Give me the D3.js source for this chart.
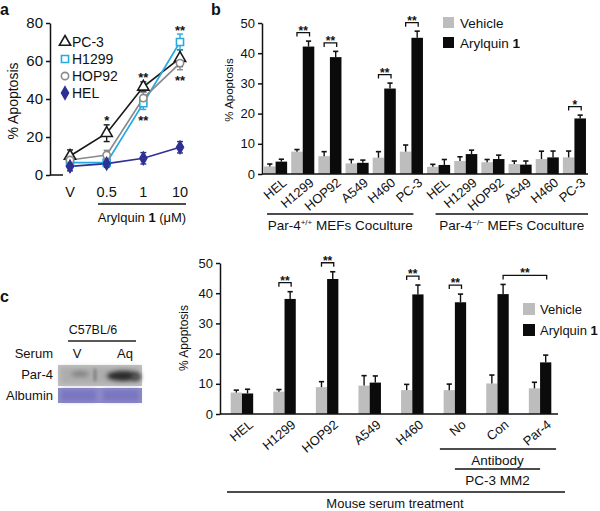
<!DOCTYPE html>
<html><head><meta charset="utf-8">
<script src="https://cdn.jsdelivr.net/npm/d3@7"></script>
<style>
body{margin:0;background:#fff}
svg{display:block}
text{font-family:"Liberation Sans",Arial,Helvetica,sans-serif;fill:#111}
</style></head>
<body><svg id="chart" width="600" height="511"></svg>
<script>
// ---------- DATA ----------
// Panel a
const doses = ["V", "0.5", "1", "10"];
const lineNames = ["PC-3", "H1299", "HOP92", "HEL"];
const pc3Vals = [10, 22, 46.4, 61.5];
const pc3Errs = [3.2, 4.4, 2.6, 4.4];
const h1299Vals = [6.5, 6.5, 37.8, 70];
const h1299Errs = [1.5, 1.5, 3.3, 4.2];
const hop92Vals = [7.9, 10.5, 40.5, 58.9];
const hop92Errs = [1.5, 2.5, 3, 3.5];
const helVals = [4.5, 6, 8.8, 14.6];
const helErrs = [2.3, 2, 3, 3];
const sigA = [
  {dose: "0.5", side: "above", label: "*"},
  {dose: "1", side: "above", label: "**"},
  {dose: "1", side: "below", label: "**"},
  {dose: "10", side: "above", label: "**"},
  {dose: "10", side: "below", label: "**"}
];
const yTicksA = [0, 20, 40, 60, 80];

// Panel b
const cellsB = ["HEL", "H1299", "HOP92", "A549", "H460", "PC-3"];
const setsB = ["wt", "ko"];
const vehWtB = [2.5, 7.4, 5.9, 3.5, 5.4, 7.4];
const vehWtErrB = [0.8, 0.7, 1.5, 1.3, 2.0, 2.2];
const aryWtB = [4.1, 42.2, 38.7, 3.7, 28.3, 45.1];
const aryWtErrB = [0.8, 1.8, 1.9, 0.9, 1.8, 2.2];
const vehKoB = [2.4, 4.3, 3.9, 3.3, 4.95, 5.5];
const vehKoErrB = [0.8, 1.4, 0.9, 1.0, 2.6, 2.1];
const aryKoB = [3.0, 6.6, 4.95, 3.1, 5.5, 18.4];
const aryKoErrB = [1.8, 1.3, 1.3, 1.2, 2.1, 1.1];
const sigB = [
  {set: "wt", cell: "H1299", label: "**"},
  {set: "wt", cell: "HOP92", label: "**"},
  {set: "wt", cell: "H460", label: "**"},
  {set: "wt", cell: "PC-3", label: "**"},
  {set: "ko", cell: "PC-3", label: "*"}
];
const yTicksB = [0, 10, 20, 30, 40, 50];

// Panel c
const groupsC = ["HEL", "H1299", "HOP92", "A549", "H460", "No", "Con", "Par-4"];
const vehC = [7.1, 7.4, 8.9, 9.4, 7.9, 7.9, 10.1, 8.5];
const vehErrC = [0.8, 0.7, 1.8, 3.3, 1.9, 2.0, 2.8, 2.0];
const aryC = [6.8, 38.1, 44.7, 10.4, 39.6, 37.0, 39.7, 17.1];
const aryErrC = [1.4, 2.4, 2.4, 2.2, 3.1, 2.7, 3.2, 2.4];
const sigC = [
  {from: "H1299", fromSub: "veh", to: "H1299", label: "**"},
  {from: "HOP92", fromSub: "veh", to: "HOP92", label: "**"},
  {from: "H460", fromSub: "veh", to: "H460", label: "**"},
  {from: "No", fromSub: "veh", to: "No", label: "**"},
  {from: "Con", fromSub: "ary", to: "Par-4", label: "**"}
];
const yTicksC = [0, 10, 20, 30, 40, 50];

// ---------- STYLE ----------
const GRAY = "#bdbdbd", BLACK = "#0b0b0b";
const lineStyle = {
  "PC-3": {color: "#1a1a1a", sym: d3.symbolTriangle, size: 55, fill: "#fff"},
  "H1299": {color: "#27aae1", sym: d3.symbolSquare, size: 50, fill: "#fff"},
  "HOP92": {color: "#8a8a8a", sym: d3.symbolCircle, size: 42, fill: "#fff"},
  "HEL": {color: "#2e3192", sym: d3.symbolDiamond, size: 42, fill: "#2e3192"}
};

const svg = d3.select("#chart");
const F = '"Liberation Sans",Arial,Helvetica,sans-serif';

function styleAxis(g, fs) {
  g.selectAll("path,line").attr("stroke", "#111").attr("stroke-width", 1.5);
  g.selectAll("text").attr("font-size", fs).attr("font-family", F).attr("fill", "#111");
}
function stars(g, x, yc, label, fs) {
  g.append("text").attr("x", x).attr("y", yc + fs * 0.58).attr("text-anchor", "middle")
    .attr("font-size", fs).attr("font-weight", "bold").text(label);
}
function bracket(g, x1, x2, y) {
  g.append("path").attr("d", `M${x1},${y + 4}V${y}H${x2}V${y + 4}`)
    .attr("fill", "none").attr("stroke", "#111").attr("stroke-width", 1.3);
}
function errT(g, x, yTop, yErr) {
  g.append("line").attr("x1", x).attr("x2", x).attr("y1", yTop).attr("y2", yErr)
    .attr("stroke", "#111").attr("stroke-width", 1.4);
  g.append("line").attr("x1", x - 2.6).attr("x2", x + 2.6).attr("y1", yErr).attr("y2", yErr)
    .attr("stroke", "#111").attr("stroke-width", 1.6);
}

// ---------- PANEL LABELS ----------
svg.append("text").attr("x", 0).attr("y", 15).attr("font-size", 16).attr("font-weight", "bold").text("a");
svg.append("text").attr("x", 211).attr("y", 15).attr("font-size", 16).attr("font-weight", "bold").text("b");
svg.append("text").attr("x", 0).attr("y", 302).attr("font-size", 16).attr("font-weight", "bold").text("c");

// ---------- PANEL A ----------
(function () {
  const g = svg.append("g");
  const x = d3.scalePoint().domain(doses).range([70, 180]);
  const y = d3.scaleLinear().domain([0, 80]).range([175, 23]);
  const series = [
    {name: "PC-3", vals: pc3Vals, errs: pc3Errs},
    {name: "H1299", vals: h1299Vals, errs: h1299Errs},
    {name: "HOP92", vals: hop92Vals, errs: hop92Errs},
    {name: "HEL", vals: helVals, errs: helErrs}
  ];
  const ax = g.append("g").attr("transform", "translate(50,0)")
    .call(d3.axisLeft(y).tickValues(yTicksA).tickSize(4).tickPadding(3).tickSizeOuter(0));
  styleAxis(ax, 15);
  g.append("line").attr("x1", 50).attr("x2", 63).attr("y1", y(0)).attr("y2", y(0))
    .attr("stroke", "#111").attr("stroke-width", 1.5);
  g.selectAll(".xl").data(doses).join("text")
    .attr("x", d => x(d)).attr("y", 197).attr("text-anchor", "middle").attr("font-size", 14.5).text(d => d);
  g.append("line").attr("x1", 98).attr("x2", 186).attr("y1", 204).attr("y2", 204)
    .attr("stroke", "#111").attr("stroke-width", 1.3);
  const t = g.append("text").attr("x", 142).attr("y", 222).attr("text-anchor", "middle").attr("font-size", 13);
  t.append("tspan").text("Arylquin ");
  t.append("tspan").attr("font-weight", "bold").text("1");
  t.append("tspan").text(" (μM)");
  g.append("text").attr("transform", "translate(13,101) rotate(-90)").attr("text-anchor", "middle")
    .attr("dominant-baseline", "central").attr("font-size", 14).text("% Apoptosis");

  const line = d3.line().x((d, i) => x(doses[i])).y(d => y(d));
  series.forEach(s => {
    const st = lineStyle[s.name];
    g.append("path").attr("d", line(s.vals)).attr("fill", "none").attr("stroke", st.color).attr("stroke-width", 1.7);
  });
  series.forEach(s => {
    const st = lineStyle[s.name];
    s.vals.forEach((v, i) => {
      const cx = x(doses[i]);
      const e = s.errs[i];
      g.append("line").attr("x1", cx).attr("x2", cx).attr("y1", y(v - e)).attr("y2", y(v + e)).attr("stroke", st.color).attr("stroke-width", 1.4);
      [v - e, v + e].forEach(vv => g.append("line").attr("x1", cx - 3).attr("x2", cx + 3).attr("y1", y(vv)).attr("y2", y(vv)).attr("stroke", st.color).attr("stroke-width", 1.4));
    });
  });
  series.forEach(s => {
    const st = lineStyle[s.name];
    s.vals.forEach((v, i) => {
      g.append("path").attr("d", d3.symbol().type(st.sym).size(st.size)())
        .attr("transform", `translate(${x(doses[i])},${y(v)})`)
        .attr("fill", st.fill).attr("stroke", st.color).attr("stroke-width", 1.6);
    });
  });
  sigA.forEach(s => {
    const i = doses.indexOf(s.dose);
    if (s.side === "above") {
      const top = d3.max(series, d => d.vals[i] + d.errs[i]);
      stars(g, x(s.dose), y(top) - 7, s.label, 13);
    } else {
      const ordered = series.filter(d => d.name !== "HEL");
      const low = d3.min(ordered, d => d.vals[i] - d.errs[i]);
      stars(g, x(s.dose), y(low) + 8, s.label, 13);
    }
  });
  lineNames.forEach((n, i) => {
    const st = lineStyle[n];
    const ly = 42 + i * 17;
    g.append("path").attr("d", d3.symbol().type(st.sym).size(st.size)())
      .attr("transform", `translate(65,${ly})`).attr("fill", st.fill).attr("stroke", st.color).attr("stroke-width", 1.6);
    g.append("text").attr("x", 72).attr("y", ly).attr("dominant-baseline", "central").attr("font-size", 14).text(n);
  });
})();

// ---------- PANEL B ----------
(function () {
  const g = svg.append("g");
  const keys = [];
  setsB.forEach(s => cellsB.forEach(c => keys.push(s + "|" + c)));
  const x = d3.scaleBand().domain(keys).range([262, 588]).paddingInner(0.15).paddingOuter(0.075);
  const x1 = d3.scaleBand().domain(["veh", "ary"]).range([0, x.bandwidth()]);
  const y = d3.scaleLinear().domain([0, 50]).range([174, 23]);
  const vals = {
    wt: {veh: vehWtB, vehErr: vehWtErrB, ary: aryWtB, aryErr: aryWtErrB},
    ko: {veh: vehKoB, vehErr: vehKoErrB, ary: aryKoB, aryErr: aryKoErrB}
  };
  const rows = [];
  setsB.forEach(s => cellsB.forEach((c, i) => {
    rows.push({key: s + "|" + c, sub: "veh", v: vals[s].veh[i], e: vals[s].vehErr[i]});
    rows.push({key: s + "|" + c, sub: "ary", v: vals[s].ary[i], e: vals[s].aryErr[i]});
  }));
  rows.forEach(r => {
    const bx = x(r.key) + x1(r.sub);
    g.append("rect").attr("x", bx).attr("y", y(r.v)).attr("width", x1.bandwidth()).attr("height", y(0) - y(r.v))
      .attr("fill", r.sub === "veh" ? GRAY : BLACK);
    errT(g, bx + x1.bandwidth() / 2, y(r.v), y(r.v + r.e));
  });
  const ax = g.append("g").attr("transform", "translate(262,0)")
    .call(d3.axisLeft(y).tickValues(yTicksB).tickSize(4).tickPadding(3).tickSizeOuter(0));
  styleAxis(ax, 13);
  g.append("line").attr("x1", 262).attr("x2", x.range()[1]).attr("y1", y(0)).attr("y2", y(0)).attr("stroke", "#111").attr("stroke-width", 1.5);
  keys.forEach(k => {
    const cx = x(k) + x.bandwidth() / 2 + 12;
    g.append("text").attr("transform", `translate(${cx},184) rotate(-40)`).attr("text-anchor", "end")
      .attr("font-size", 13).text(k.split("|")[1]);
  });
  g.append("text").attr("transform", "translate(229,90) rotate(-90)").attr("text-anchor", "middle")
    .attr("dominant-baseline", "central").attr("font-size", 11.5).text("% Apoptosis");
  const wtFirst = x("wt|HEL"), wtLast = x("wt|PC-3") + x.bandwidth() / 2;
  const koFirst = x("ko|HEL") + x.bandwidth() / 2 - 3, koLast = x.range()[1];
  [[wtFirst + 3, wtLast + 2, "+/+"], [koFirst, koLast, "−/−"]].forEach(([a, b, sup]) => {
    g.append("line").attr("x1", a).attr("x2", b).attr("y1", 214).attr("y2", 214).attr("stroke", "#111").attr("stroke-width", 1.3);
    const t = g.append("text").attr("x", (a + b) / 2).attr("y", 230).attr("text-anchor", "middle").attr("font-size", 13.5);
    t.append("tspan").text("Par-4");
    t.append("tspan").attr("font-size", 8).attr("dy", -5).text(sup);
    t.append("tspan").attr("dy", 5).text(" MEFs Coculture");
  });
  sigB.forEach(s => {
    const k = s.set + "|" + s.cell;
    const i = cellsB.indexOf(s.cell);
    const top = vals[s.set].ary[i] + vals[s.set].aryErr[i];
    const yb = y(top) - 8.5;
    const xa = x(k) + x1("veh") + x1.bandwidth() / 2, xb = x(k) + x1("ary") + x1.bandwidth() / 2 + 1;
    bracket(g, xa, xb, yb);
    stars(g, (xa + xb) / 2, yb - 5, s.label, 12);
  });
  g.append("rect").attr("x", 443).attr("y", 17).attr("width", 11).attr("height", 11).attr("fill", GRAY);
  g.append("text").attr("x", 460).attr("y", 23).attr("dominant-baseline", "central").attr("font-size", 13.5).text("Vehicle");
  g.append("rect").attr("x", 443).attr("y", 37).attr("width", 11).attr("height", 11).attr("fill", BLACK);
  const lt = g.append("text").attr("x", 460).attr("y", 43).attr("dominant-baseline", "central").attr("font-size", 13.5);
  lt.append("tspan").text("Arylquin ");
  lt.append("tspan").attr("font-weight", "bold").text("1");
})();

// ---------- PANEL C: blot ----------
(function () {
  const g = svg.append("g");
  const defs = svg.append("defs");
  defs.append("filter").attr("id", "blur2").attr("x", "-50%").attr("y", "-50%").attr("width", "200%").attr("height", "200%")
    .append("feGaussianBlur").attr("stdDeviation", 2);
  defs.append("filter").attr("id", "blur1").append("feGaussianBlur").attr("stdDeviation", 1);
  g.append("text").attr("x", 93).attr("y", 334).attr("text-anchor", "middle").attr("font-size", 12.5).text("C57BL/6");
  g.append("line").attr("x1", 68).attr("x2", 136).attr("y1", 341).attr("y2", 341).attr("stroke", "#222").attr("stroke-width", 1.5);
  g.append("text").attr("x", 53).attr("y", 358).attr("text-anchor", "end").attr("font-size", 13).text("Serum");
  g.append("text").attr("x", 77).attr("y", 358).attr("text-anchor", "middle").attr("font-size", 13).text("V");
  g.append("text").attr("x", 125).attr("y", 358).attr("text-anchor", "middle").attr("font-size", 13).text("Aq");
  g.append("text").attr("x", 53).attr("y", 379).attr("text-anchor", "end").attr("font-size", 13).text("Par-4");
  g.append("text").attr("x", 53).attr("y", 400).attr("text-anchor", "end").attr("font-size", 13).text("Albumin");
  g.append("rect").attr("x", 58).attr("y", 365).attr("width", 84).attr("height", 21).attr("fill", "#c0c0c0");
  g.append("rect").attr("x", 60).attr("y", 367).attr("width", 80).attr("height", 17).attr("fill", "#adadad").attr("filter", "url(#blur2)");
  g.append("ellipse").attr("cx", 80).attr("cy", 374).attr("rx", 9).attr("ry", 3).attr("fill", "#858585").attr("filter", "url(#blur2)");
  g.append("ellipse").attr("cx", 95).attr("cy", 375).attr("rx", 2).attr("ry", 7).attr("fill", "#8a8a8a").attr("filter", "url(#blur1)");
  g.append("ellipse").attr("cx", 123).attr("cy", 376).attr("rx", 16).attr("ry", 5).attr("fill", "#2b2b2b").attr("filter", "url(#blur2)");
  g.append("ellipse").attr("cx", 136).attr("cy", 377).attr("rx", 5).attr("ry", 4).attr("fill", "#555").attr("filter", "url(#blur2)");
  g.append("rect").attr("x", 58).attr("y", 388).attr("width", 84).attr("height", 15).attr("fill", "#8d8ac9");
  g.append("rect").attr("x", 61).attr("y", 390).attr("width", 35).attr("height", 11).attr("fill", "#7a77c0").attr("filter", "url(#blur2)");
  g.append("rect").attr("x", 103).attr("y", 390).attr("width", 36).attr("height", 11).attr("fill", "#7a77c0").attr("filter", "url(#blur2)");
})();

// ---------- PANEL C: bars ----------
(function () {
  const g = svg.append("g");
  const x = d3.scaleBand().domain(groupsC).range([220, 562]).paddingInner(0.472).paddingOuter(0.251);
  const x1 = d3.scaleBand().domain(["veh", "ary"]).range([0, x.bandwidth()]);
  const y = d3.scaleLinear().domain([0, 50]).range([414, 263]);
  const rows = [];
  groupsC.forEach((c, i) => {
    rows.push({key: c, sub: "veh", v: vehC[i], e: vehErrC[i]});
    rows.push({key: c, sub: "ary", v: aryC[i], e: aryErrC[i]});
  });
  rows.forEach(r => {
    const bx = x(r.key) + x1(r.sub);
    g.append("rect").attr("x", bx).attr("y", y(r.v)).attr("width", x1.bandwidth()).attr("height", y(0) - y(r.v))
      .attr("fill", r.sub === "veh" ? GRAY : BLACK);
    errT(g, bx + x1.bandwidth() / 2, y(r.v), y(r.v + r.e));
  });
  const ax = g.append("g").attr("transform", "translate(220,0)")
    .call(d3.axisLeft(y).tickValues(yTicksC).tickSize(4).tickPadding(3).tickSizeOuter(0));
  styleAxis(ax, 13);
  g.append("line").attr("x1", 220).attr("x2", 558).attr("y1", y(0)).attr("y2", y(0)).attr("stroke", "#111").attr("stroke-width", 1.5);
  groupsC.forEach(c => {
    const cx = x(c) + x.bandwidth() / 2 + 12;
    g.append("text").attr("transform", `translate(${cx},426) rotate(-40)`).attr("text-anchor", "end")
      .attr("font-size", 13).text(c);
  });
  g.append("text").attr("transform", "translate(184,338) rotate(-90)").attr("text-anchor", "middle")
    .attr("dominant-baseline", "central").attr("font-size", 12).text("% Apoptosis");
  const noC = x("No") + x.bandwidth() / 2, parC = x("Par-4") + x.bandwidth() / 2;
  g.append("line").attr("x1", noC - 15).attr("x2", parC + 16).attr("y1", 449).attr("y2", 449).attr("stroke", "#111").attr("stroke-width", 1.3);
  g.append("text").attr("x", (noC + parC) / 2).attr("y", 465).attr("text-anchor", "middle").attr("font-size", 13.5).text("Antibody");
  g.append("line").attr("x1", noC).attr("x2", parC).attr("y1", 469).attr("y2", 469).attr("stroke", "#111").attr("stroke-width", 1.3);
  g.append("text").attr("x", (noC + parC) / 2).attr("y", 485).attr("text-anchor", "middle").attr("font-size", 13.5).text("PC-3 MM2");
  g.append("line").attr("x1", 227).attr("x2", 565).attr("y1", 492).attr("y2", 492).attr("stroke", "#111").attr("stroke-width", 1.3);
  g.append("text").attr("x", 395).attr("y", 507.5).attr("text-anchor", "middle").attr("font-size", 13).text("Mouse serum treatment");
  sigC.forEach(s => {
    const i = groupsC.indexOf(s.from);
    const top = aryC[i] + aryErrC[i];
    const yb = y(top) - 9;
    const xa = x(s.from) + x1(s.fromSub) + x1.bandwidth() / 2;
    const xb = x(s.to) + x1("ary") + x1.bandwidth() / 2 + 1;
    bracket(g, xa, xb, yb);
    stars(g, (xa + xb) / 2, yb - 5, s.label, 12);
  });
  g.append("rect").attr("x", 523).attr("y", 303).attr("width", 12).attr("height", 12).attr("fill", GRAY);
  g.append("text").attr("x", 540).attr("y", 309).attr("dominant-baseline", "central").attr("font-size", 13).text("Vehicle");
  g.append("rect").attr("x", 523).attr("y", 324).attr("width", 12).attr("height", 12).attr("fill", BLACK);
  const lt = g.append("text").attr("x", 540).attr("y", 330).attr("dominant-baseline", "central").attr("font-size", 13);
  lt.append("tspan").text("Arylquin ");
  lt.append("tspan").attr("font-weight", "bold").text("1");
})();
</script></body></html>
